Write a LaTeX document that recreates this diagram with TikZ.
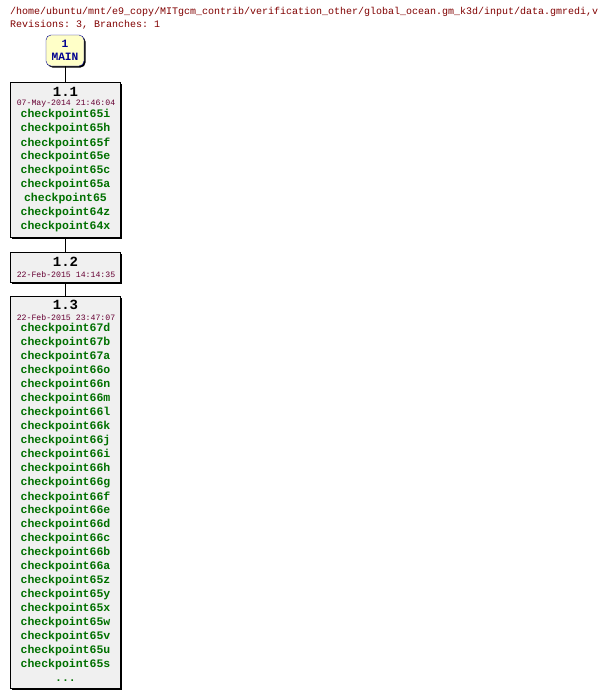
\documentclass[tikz,border=0pt]{standalone}
\usepackage{fontspec}
\setmonofont{Liberation Mono}
\usetikzlibrary{shadows}
\definecolor{pathred}{HTML}{800000}
\definecolor{datered}{HTML}{660033}
\definecolor{tagreen}{HTML}{007000}
\definecolor{boxgray}{HTML}{F0F0F0}
\definecolor{mainfill}{HTML}{FFFFC8}
\definecolor{mainblue}{HTML}{000090}
\begin{document}
\begin{tikzpicture}[x=1pt,y=-1pt,
  rev/.style={draw=black, fill=boxgray, minimum width=110pt, inner sep=0pt,
    drop shadow={shadow xshift=2pt,shadow yshift=-2pt,fill=black,opacity=1}},
  branch/.style={draw=mainblue, fill=mainfill, rounded corners=5pt, minimum width=38pt,
    minimum height=31pt, inner sep=0pt, align=center, text=mainblue,
    font=\fontsize{11.2}{13}\selectfont\ttfamily\bfseries,
    drop shadow={shadow xshift=1.5pt,shadow yshift=-1.5pt,fill=black,opacity=1}},
  head/.style={anchor=west, inner sep=0pt, text=pathred, font=\fontsize{10}{12}\selectfont\ttfamily},
  num/.style={inner sep=0pt, font=\fontsize{14}{16}\selectfont\ttfamily\bfseries},
  stamp/.style={inner sep=0pt, text=datered, font=\fontsize{8.2}{10}\selectfont\ttfamily},
  tag/.style={inner sep=0pt, text=tagreen, font=\fontsize{11.5}{14}\selectfont\ttfamily\bfseries}]
\useasboundingbox (0,0) rectangle (608,699);
% Header
\node[head] (file) at (10,12) {/home/ubuntu/mnt/e9\_copy/MITgcm\_contrib/verification\_other/global\_ocean.gm\_k3d/input/data.gmredi,v};
\node[head] (info) at (10,25) {Revisions: 3, Branches: 1};
% Revision boxes
\node[branch] (main) at (65,50.5) {1\\MAIN};
\node[rev, minimum height=155pt] (r11) at (65,159.5) {};
\node[rev, minimum height=30pt] (r12) at (65,267) {};
\node[rev, minimum height=392pt] (r13) at (65,492) {};
% Connectors
\draw (main.south) -- (r11.north);
\draw (r11.south) -- (r12.north);
\draw (r12.south) -- (r13.north);
% Revision 1.1
\node[num] (n11) at (65.5,92) {1.1};
\node[stamp] (d11) at (66,104) {07-May-2014 21:46:04};
\foreach \name [count=\i from 0] in {65i,65h,65f,65e,65c,65a,65,64z,64x}
  \node[tag] (t11-\i) at (65.5,115+14*\i) {checkpoint\name};
% Revision 1.2
\node[num] (n12) at (65.5,261.5) {1.2};
\node[stamp] (d12) at (66,274.5) {22-Feb-2015 14:14:35};
% Revision 1.3
\node[num] (n13) at (65.5,304.5) {1.3};
\node[stamp] (d13) at (66,318) {22-Feb-2015 23:47:07};
\foreach \name [count=\i from 0] in {67d,67b,67a,66o,66n,66m,66l,66k,66j,66i,66h,66g,66f,
    66e,66d,66c,66b,66a,65z,65y,65x,65w,65v,65u,65s}
  \node[tag] (t13-\i) at (65.5,329+14*\i) {checkpoint\name};
\node[tag] (more) at (65.5,681) {...};
\end{tikzpicture}
\end{document}
